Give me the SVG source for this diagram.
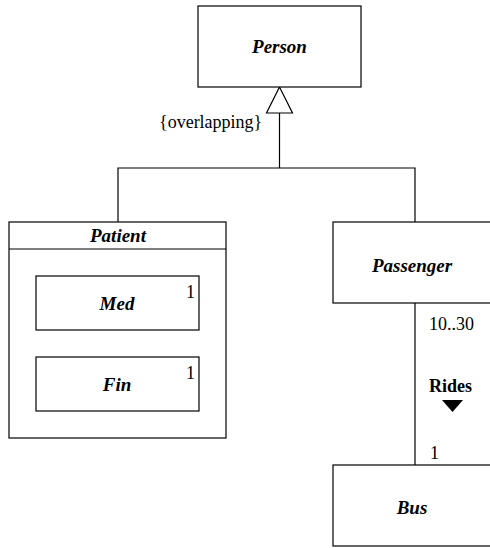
<svg xmlns="http://www.w3.org/2000/svg" width="490" height="548" viewBox="0 0 490 548">
  <style>
    .box { fill: #ffffff; stroke: #000000; stroke-width: 1.2; }
    .line { fill: none; stroke: #000000; stroke-width: 1.2; }
    .name { font-weight: bold; font-style: italic; text-anchor: middle; font-size: 19px; }
    .bold { font-weight: bold; }
  </style>
  <rect width="490" height="548" fill="#ffffff"/>

  <g font-family="Liberation Serif" font-size="18" fill="#000000">
    <!-- connectors: generalization tree and Rides association -->
    <g id="connectors">
      <polyline class="line" points="118,222 118,168 415,168 415,222"/>
      <line class="line" x1="279.5" y1="113" x2="279.5" y2="168"/>
      <polygon class="box" points="279.5,87 266.5,113 292.5,113"/>
      <text x="159" y="128">{overlapping}</text>
      <line class="line" x1="415" y1="303" x2="415" y2="465"/>
      <text x="429" y="330">10..30</text>
      <text class="bold" x="429" y="392">Rides</text>
      <polygon points="442,400 463,400 452.5,412" fill="#000000"/>
      <text x="430" y="459">1</text>
    </g>

    <g id="person">
      <rect class="box" x="198" y="6" width="163" height="81"/>
      <text class="name" x="279.5" y="53">Person</text>
    </g>

    <g id="patient">
      <rect class="box" x="9" y="222" width="217" height="216"/>
      <line class="line" x1="9" y1="249" x2="226" y2="249"/>
      <text class="name" x="118" y="242">Patient</text>
    </g>

    <g id="med">
      <rect class="box" x="36" y="276" width="163" height="54"/>
      <text class="name" x="117" y="310">Med</text>
      <text x="186" y="298">1</text>
    </g>

    <g id="fin">
      <rect class="box" x="36" y="357" width="163" height="54"/>
      <text class="name" x="117" y="391">Fin</text>
      <text x="186" y="379">1</text>
    </g>

    <g id="passenger">
      <rect class="box" x="333" y="222" width="160" height="81"/>
      <text class="name" x="412" y="272">Passenger</text>
    </g>

    <g id="bus">
      <rect class="box" x="333" y="465" width="160" height="81"/>
      <text class="name" x="412" y="514">Bus</text>
    </g>
  </g>
</svg>
